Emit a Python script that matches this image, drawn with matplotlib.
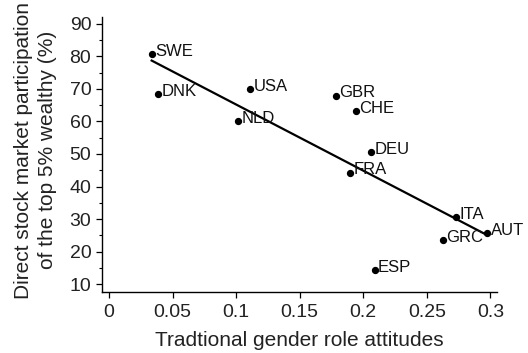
"""Stock market participation of the wealthy vs. traditional gender role attitudes."""

import matplotlib
matplotlib.use("Agg")
import matplotlib.pyplot as plt
from matplotlib.ticker import MultipleLocator

plt.rcParams["font.family"] = ["Liberation Sans", "DejaVu Sans"]

# Country points
countries = ["SWE", "DNK", "USA", "NLD", "GBR", "CHE", "DEU", "FRA", "ITA", "AUT", "GRC", "ESP"]
attitudes = [0.0336, 0.0388, 0.111, 0.1018, 0.1787, 0.1942, 0.2063, 0.1898, 0.273, 0.2974, 0.2627, 0.2089]
participation = [80.7, 68.4, 70.0, 60.2, 67.9, 63.2, 50.5, 44.3, 30.7, 25.6, 23.5, 14.3]

# Fitted line endpoints
fit_x = [0.0336, 0.2974]
fit_y = [78.7, 25.1]

x_ticks = [0, 0.05, 0.1, 0.15, 0.2, 0.25, 0.3]
x_tick_labels = ["0", "0.05", "0.1", "0.15", "0.2", "0.25", "0.3"]
y_ticks = [10, 20, 30, 40, 50, 60, 70, 80, 90]

fig = plt.figure(figsize=(5.28, 3.53), dpi=100)
ax = fig.add_axes([0.1926, 0.1737, 0.7481, 0.7783])

ax.plot(fit_x, fit_y, color="black", lw=1.6, zorder=2)
ax.scatter(attitudes, participation, s=18, color="black", zorder=3)
for name, x, y in zip(countries, attitudes, participation):
    ax.annotate(name, (x, y), xytext=(2.5, 2), textcoords="offset points",
                ha="left", va="center", fontsize=12, color="#111111")

ax.set_xlim(-0.0057, 0.305)
ax.set_ylim(7.7, 92.1)
ax.set_xticks(x_ticks)
ax.set_xticklabels(x_tick_labels)
ax.set_yticks(y_ticks)
ax.yaxis.set_minor_locator(MultipleLocator(5))

for side in ("top", "right"):
    ax.spines[side].set_visible(False)
for side in ("left", "bottom"):
    ax.spines[side].set_linewidth(1.0)

ax.tick_params(axis="both", which="major", direction="out", length=4, width=0.9,
               labelsize=14, colors="black", labelcolor="#222222")
ax.tick_params(axis="x", which="major", pad=5)
ax.tick_params(axis="y", which="minor", direction="out", length=2, width=0.8)

ax.set_xlabel("Tradtional gender role attitudes", fontsize=15, color="#222222", labelpad=7)
ax.set_ylabel("Direct stock market participation\nof the top 5% wealthy (%)",
              fontsize=15, color="#222222", linespacing=1.35)
# two-line label hugging the left edge of the figure
ax.yaxis.set_label_coords(-0.112, 0.515)

fig.savefig("out.png", dpi=100)
